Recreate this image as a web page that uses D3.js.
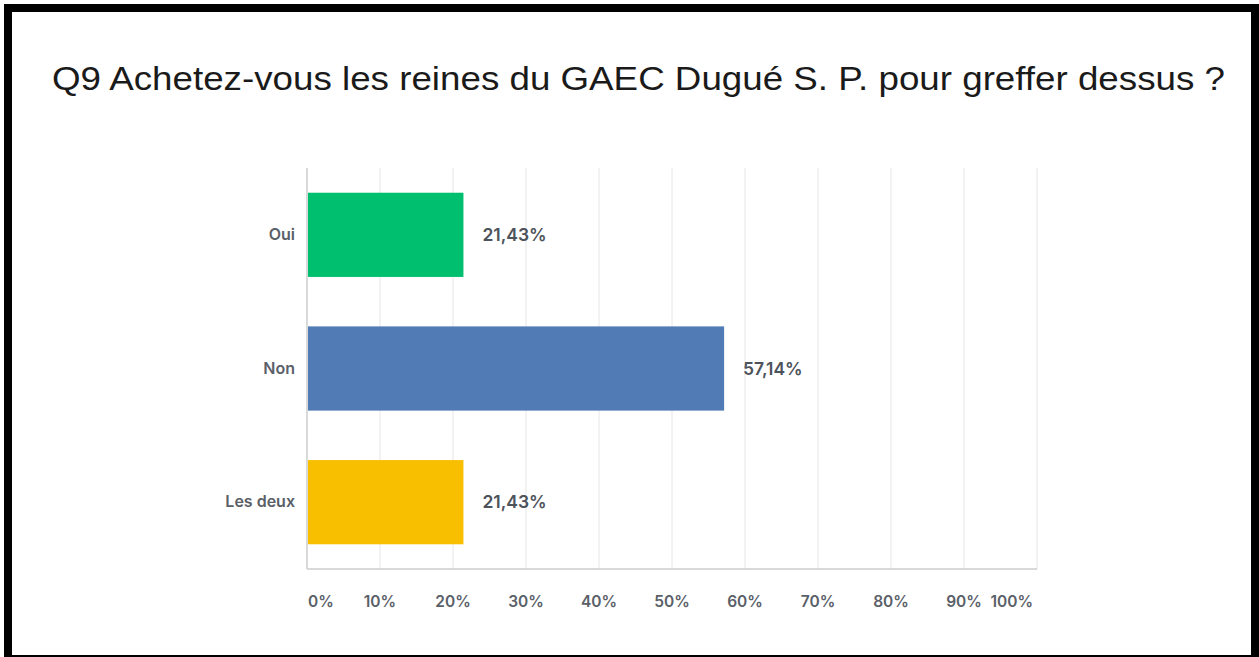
<!DOCTYPE html>
<html>
<head>
<meta charset="utf-8">
<script src="https://cdn.jsdelivr.net/npm/d3@7"></script>
<style>
    body { margin: 0; background: #fff; }
    svg { display: block; }
</style>
</head>
<body>
<div id="chart"></div>
<script>
    const title = "Q9 Achetez-vous les reines du GAEC Dugué S. P. pour greffer dessus ?";
    const categories = ["Oui", "Non", "Les deux"];
    const values = [21.43, 57.14, 21.43];
    const barColors = ["#00bf6f", "#507bb4", "#f8bf00"];
    const ticks = [0, 10, 20, 30, 40, 50, 60, 70, 80, 90, 100];

    let width = 1259, height = 657;
    let svg = d3.select("#chart").append("svg")
        .attr("width", width)
        .attr("height", height);

    // frame
    svg.append("rect").attr("x", 8).attr("y", 8).attr("width", 1247).attr("height", 652)
        .attr("fill", "#fff").attr("stroke", "#000").attr("stroke-width", 8);
    svg.append("rect").attr("x", 4).attr("y", 655).attr("width", 1254).attr("height", 2).attr("fill", "#000");

    svg.append("text")
        .attr("x", 52).attr("y", 90)
        .attr("font-family", "Liberation Sans, Arial, sans-serif")
        .attr("font-size", 33)
        .attr("fill", "#1a1a1a")
        .attr("textLength", 1173)
        .attr("lengthAdjust", "spacingAndGlyphs")
        .text(title);

    let x = d3.scaleLinear().domain([0, 100]).range([307, 1037]);
    let y = d3.scaleBand().domain(categories).range([168, 569])
        .paddingInner(0.37).paddingOuter(0.185);

    // gridlines
    svg.append("g").selectAll("line")
        .data(ticks.slice(1))
        .join("line")
        .attr("x1", d => x(d)).attr("x2", d => x(d))
        .attr("y1", 168).attr("y2", 569)
        .attr("stroke", "#e6e6e6").attr("stroke-width", 1);

    svg.append("line").attr("x1", x(0)).attr("x2", x(0)).attr("y1", 168).attr("y2", 569)
        .attr("stroke", "#cccccc").attr("stroke-width", 1.5);
    svg.append("line").attr("x1", x(0)).attr("x2", x(100)).attr("y1", 569).attr("y2", 569)
        .attr("stroke", "#cccccc").attr("stroke-width", 1.5);

    // tick labels
    svg.append("g").selectAll("text")
        .data(ticks)
        .join("text")
        .attr("x", d => d === 0 ? x(d) + 1 : d === 100 ? x(d) - 4 : x(d))
        .attr("y", 607)
        .attr("text-anchor", d => d === 0 ? "start" : d === 100 ? "end" : "middle")
        .attr("font-family", "Inter, Roboto, sans-serif")
        .attr("font-size", 15.5)
        .attr("font-weight", 600)
        .attr("fill", "#5a6068")
        .text(d => d + "%");

    // bars
    svg.append("g").selectAll("rect")
        .data(categories)
        .join("rect")
        .attr("x", x(0) + 1)
        .attr("y", d => y(d))
        .attr("width", (d, i) => x(values[i]) - x(0) - 1)
        .attr("height", y.bandwidth())
        .attr("fill", (d, i) => barColors[i]);

    // category labels
    svg.append("g").selectAll("text")
        .data(categories)
        .join("text")
        .attr("x", 295)
        .attr("y", d => y(d) + y.bandwidth() / 2 + 5)
        .attr("text-anchor", "end")
        .attr("font-family", "Inter, Roboto, sans-serif")
        .attr("font-size", 16)
        .attr("font-weight", 600)
        .attr("fill", "#5a6068")
        .text(d => d);

    // value labels
    svg.append("g").selectAll("text")
        .data(categories)
        .join("text")
        .attr("x", (d, i) => x(values[i]) + 19)
        .attr("y", d => y(d) + y.bandwidth() / 2 + 6)
        .attr("font-family", "Inter, Roboto, sans-serif")
        .attr("font-size", 17.5)
        .attr("font-weight", 600)
        .attr("fill", "#4d535b")
        .text((d, i) => values[i].toFixed(2).replace(".", ",") + "%");
</script>
</body>
</html>
